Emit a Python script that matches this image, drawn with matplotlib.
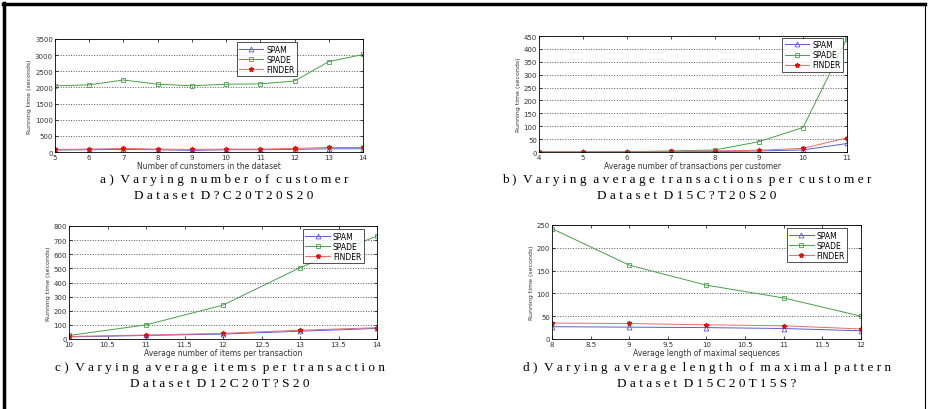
import matplotlib.pyplot as plt
import numpy as np

# running times (seconds) for the four experiments
a_x = [5, 6, 7, 8, 9, 10, 11, 12, 13, 14]
a_spam = [60, 70, 80, 70, 50, 70, 70, 80, 100, 100]
a_spade = [2050, 2080, 2230, 2100, 2050, 2100, 2110, 2200, 2800, 3020]
a_finder = [80, 90, 110, 90, 80, 90, 90, 110, 140, 140]

b_x = [4, 5, 6, 7, 8, 9, 10, 11]
b_spam = [0, 0, 0, 1, 2, 4, 8, 33]
b_spade = [0, 0, 1, 4, 8, 40, 95, 440]
b_finder = [0, 0, 1, 2, 4, 7, 14, 55]

c_x = [10, 11, 12, 13, 14]
c_spam = [15, 25, 35, 55, 75]
c_spade = [25, 100, 240, 505, 730]
c_finder = [18, 28, 40, 62, 80]

d_x = [8, 9, 10, 11, 12]
d_spam = [27, 26, 25, 23, 18]
d_spade = [242, 162, 118, 90, 50]
d_finder = [35, 34, 31, 29, 22]

W, H = 929, 410
fig = plt.figure(figsize=(W / 100, H / 100), dpi=100)


def box(x0, y0, x1, y1):
    # pixel box -> figure fraction
    return [x0 / W, 1 - y1 / H, (x1 - x0) / W, (y1 - y0) / H]


def spaced(s):
    return "  ".join(" ".join(w) for w in s.split(" "))


def panel(rect, x, spam, spade, finder, ylim, ystep, xticks, xlabel, legpos, cap1, cap2, capx, capy):
    ax = fig.add_axes(box(*rect))
    ax.plot(x, spam, color="#5a5ad8", lw=0.7, marker="^", ms=3.5, mfc="none", mew=0.6, label="SPAM")
    ax.plot(x, spade, color="#4a9e4a", lw=0.7, marker="s", ms=3.5, mfc="none", mew=0.6, label="SPADE")
    ax.plot(x, finder, color="#e86a6a", lw=0.7, marker="*", ms=3.5, mfc="#e01010", mec="#e01010", label="FINDER")
    ax.set_xlim(x[0], x[-1])
    ax.set_ylim(0, ylim)
    ax.set_yticks(np.arange(0, ylim + 1, ystep))
    ax.set_xticks(xticks)
    ax.set_xticklabels([("%g" % t) for t in xticks])
    ax.yaxis.grid(True, linestyle=":", color="#555555", lw=0.7)
    ax.tick_params(direction="in", top=True, right=True, labelsize=5, length=2, width=0.5, pad=1.5,
                   labelcolor="#333333")
    for s in ax.spines.values():
        s.set_linewidth(0.6)
    ax.set_ylabel("Running time (seconds)", fontsize=4.5, labelpad=2, color="#333333")
    ax.set_xlabel(xlabel, fontsize=5.5, labelpad=0.5, color="#333333")
    leg = ax.legend(loc="upper left", bbox_to_anchor=legpos, fontsize=5.5, frameon=True, fancybox=False,
                    edgecolor="black", borderpad=0.3, labelspacing=0.15, handlelength=3.2,
                    handletextpad=0.4, borderaxespad=0)
    leg.get_frame().set_linewidth(0.6)
    fig.text(capx / W, 1 - capy / H, spaced(cap1), ha="center", va="center", family="Liberation Serif", fontsize=9.5)
    fig.text(capx / W, 1 - (capy + 16) / H, spaced(cap2), ha="center", va="center", family="Liberation Serif", fontsize=9.5)


panel((55, 40, 363, 153), a_x, a_spam, a_spade, a_finder, 3500, 500, a_x,
      "Number of cunstomers in the dataset", (0.59, 0.97),
      "a) Varying number of customer", "Dataset D?C20T20S20", 224, 180)
panel((539, 37, 847, 153), b_x, b_spam, b_spade, b_finder, 450, 50, b_x,
      "Average number of transactions per customer", (0.79, 0.985),
      "b) Varying average transactions per customer", "Dataset D15C?T20S20", 687, 180)
panel((69, 227, 377, 340), c_x, c_spam, c_spade, c_finder, 800, 100, np.arange(10, 14.01, 0.5),
      "Average number of items per transaction", (0.76, 0.97),
      "c) Varying average items per transaction", "Dataset D12C20T?S20", 220, 368)
panel((552, 226, 861, 340), d_x, d_spam, d_spade, d_finder, 250, 50, np.arange(8, 12.01, 0.5),
      "Average length of maximal sequences", (0.76, 0.97),
      "d) Varying average length of maximal pattern", "Dataset D15C20T15S?", 707, 368)

# frame around the figure
fig.add_artist(plt.Line2D([4.5 / W, 4.5 / W], [0, 1 - 4 / H], color="black", lw=2.5))
fig.add_artist(plt.Line2D([3 / W, 925 / W], [1 - 4.5 / H, 1 - 4.5 / H], color="black", lw=2.5))
fig.add_artist(plt.Line2D([925.5 / W, 925.5 / W], [0, 1 - 4 / H], color="black", lw=0.8))

fig.savefig("out.png", dpi=100)
